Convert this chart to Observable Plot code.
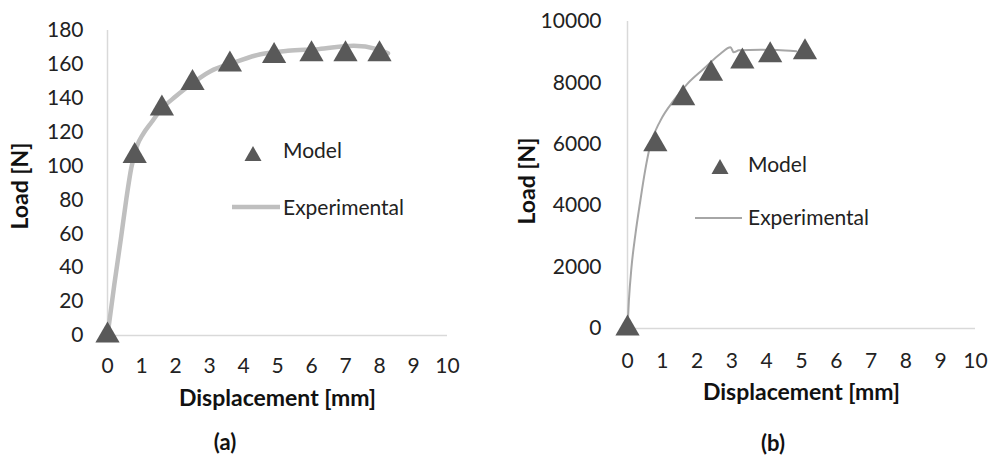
<!DOCTYPE html>
<html><head><meta charset="utf-8">
<script src="https://cdn.jsdelivr.net/npm/d3@7"></script>
<script src="https://cdn.jsdelivr.net/npm/@observablehq/plot@0.6"></script>
<style>
body{margin:0;background:#fff;font-family:Lato,"Open Sans",sans-serif;}
#wrap{position:relative;width:995px;height:459px;overflow:hidden;}
.panel{position:absolute;top:0;}
.lt{position:absolute;font-size:21px;line-height:24px;height:24px;color:#222;white-space:nowrap;}
.ico{position:absolute;}
.cap{position:absolute;font-size:22px;line-height:24px;font-weight:bold;color:#111;transform:translateX(-50%);}
</style></head>
<body><div id="wrap"></div>
<script>
// ---- data ----
const xTicks = [0,1,2,3,4,5,6,7,8,9,10];
// (a)
const aYTicks = [0,20,40,60,80,100,120,140,160,180];
const aModelX = [0,0.8,1.6,2.5,3.6,4.9,6.0,7.0,8.0];
const aModelY = [0,106,134,149,160,165,166,166,166];
const aExpX = [0,0.2,0.4,0.55,0.7,0.87,1.05,1.3,1.56,2.0,2.34,3.03,3.7,4.5,5.3,6.2,7.24,7.93,8.25];
const aExpY = [0,30,58,80,99,112,119,126,133,141,146.5,156,161,166,168,169,171,169,166.5];
// (b)
const bYTicks = [0,2000,4000,6000,8000,10000];
const bModelX = [0,0.8,1.6,2.4,3.3,4.1,5.1];
const bModelY = [0,6000,7500,8300,8700,8900,9000];
const bExpX = [0,0.04,0.115,0.23,0.37,0.5,0.65,0.95,1.33,1.72,2.19,2.67,2.96,3.05,3.2,3.82,4.3,4.85];
const bExpY = [0,910,2000,3090,4170,5100,5950,6780,7430,7970,8460,8950,9160,9000,9060,9080,9070,9030];

const font = 'Lato, "Open Sans", sans-serif';
function zip(xs, ys){ return xs.map((x,i)=>({x, y: ys[i]})); }

function panel({left, width, height, mt, mb, ml, mr, yTicks, yMax, model, exp, lineColor, lineWidth, tickPadY, tickPadX, yLabelOff, yLabelDy, xLabelOff}) {
  const svg = Plot.plot({
    width, height, marginTop: mt, marginBottom: mb, marginLeft: ml, marginRight: mr,
    style: {fontFamily: font, fontSize: "21px", color: "#222", background: "transparent"},
    x: {domain: [0,10], ticks: xTicks},
    y: {domain: [0,yMax], ticks: yTicks},
    marks: [
      Plot.axisX({ticks: xTicks, tickSize: 0, tickPadding: tickPadX, label: null, fontSize: 21, tickFormat: "d"}),
      Plot.axisY({ticks: yTicks, tickSize: 0, tickPadding: tickPadY, label: null, fontSize: 21, tickFormat: "d"}),
      Plot.ruleY([0], {stroke: "#d9d9d9", strokeWidth: 1.5}),
      Plot.ruleX([0], {stroke: "#d9d9d9", strokeWidth: 1.5}),
      Plot.line(exp, {x: "x", y: "y", stroke: lineColor, strokeWidth: lineWidth, curve: "monotone-x"}),
      Plot.dot(model, {x: "x", y: "y", symbol: "triangle", r: 9, fill: "#595959", stroke: "none"}),
      Plot.text(["Load [N]"], {frameAnchor: "left", dx: -yLabelOff, dy: yLabelDy, rotate: -90, textAnchor: "middle", lineAnchor: "middle", fontWeight: "bold", fontSize: 23, fill: "#111"}),
      Plot.text(["Displacement [mm]"], {frameAnchor: "bottom", dy: xLabelOff, lineAnchor: "middle", fontWeight: "bold", fontSize: 23, fill: "#111"})
    ]
  });
  const d = document.createElement("div");
  d.className = "panel"; d.style.left = left + "px";
  d.appendChild(svg);
  document.getElementById("wrap").appendChild(d);
}

panel({left: 0, width: 480, height: 420, mt: 30, mb: 85, ml: 107, mr: 33,
  yTicks: aYTicks, yMax: 180, model: zip(aModelX, aModelY), exp: zip(aExpX, aExpY),
  lineColor: "#bfbfbf", lineWidth: 4.5, tickPadY: 24, tickPadX: 23, yLabelOff: 87, yLabelDy: 3, xLabelOff: 63});
panel({left: 500, width: 495, height: 420, mt: 21, mb: 92, ml: 127, mr: 20,
  yTicks: bYTicks, yMax: 10000, model: zip(bModelX, bModelY), exp: zip(bExpX, bExpY),
  lineColor: "#a6a6a6", lineWidth: 2, tickPadY: 26, tickPadX: 25, yLabelOff: 100, yLabelDy: 6, xLabelOff: 64});

// legends and captions
const wrap = document.getElementById("wrap");
function add(cls, x, y, html){ const d = document.createElement("div"); d.className = cls; d.style.left = x + "px"; d.style.top = y + "px"; d.innerHTML = html; wrap.appendChild(d); }
function tri(cx, cy){ add("ico", cx - 9, cy - 9, `<svg width="18" height="17" style="display:block"><path d="M9,1 L17.5,16 L0.5,16 Z" fill="#595959"/></svg>`); }
function seg(x1, x2, cy, color, w){ add("ico", x1, cy - 4, `<svg width="${x2-x1}" height="8" style="display:block"><line x1="0" x2="${x2-x1}" y1="4" y2="4" stroke="${color}" stroke-width="${w}"/></svg>`); }
function label(x, cy, t){ add("lt", x, cy - 13, t); }

tri(253, 154); label(283, 151, "Model");
seg(232, 280, 207, "#bfbfbf", 4.5); label(283, 208, "Experimental");
tri(720, 167); label(748, 165, "Model");
seg(695, 742, 218, "#a6a6a6", 2); label(748, 218, "Experimental");

add("cap", 225, 430, "(a)");
add("cap", 773, 431, "(b)");
</script></body></html>
